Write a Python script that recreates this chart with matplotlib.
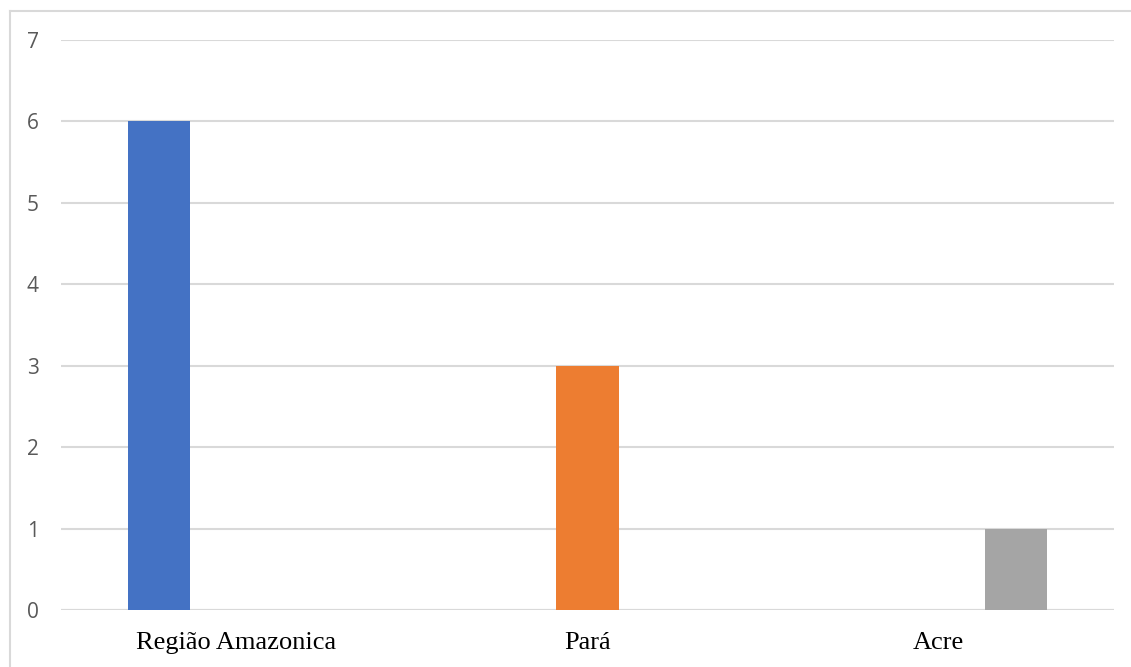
import numpy as np
import matplotlib.pyplot as plt
from matplotlib.lines import Line2D

# categories and one series per category (Excel clustered style)
categories = ["Região Amazonica", "Pará", "Acre"]
series_names = ["Região Amazonica", "Pará", "Acre"]
series_values = [[6, 0, 0], [0, 3, 0], [0, 0, 1]]
colors = ["#4472C4", "#ED7D31", "#A5A5A5"]
yticks = [0, 1, 2, 3, 4, 5, 6, 7]

fig = plt.figure(figsize=(11.31, 6.67), dpi=100)
ax = fig.add_axes([61/1131, 57/667, 1053/1131, 570/667])

x = np.arange(len(categories))
step = 0.222  # spacing between series within a group
width = 0.177
for i, (name, vals) in enumerate(zip(series_names, series_values)):
    offs = (i - 1) * step
    ax.bar(x + offs, vals, width=width, color=colors[i], label=name, zorder=3)

ax.set_xlim(-0.5, 2.5)
ax.set_ylim(0, 7)
ax.set_yticks(yticks)
ax.set_yticklabels([str(t) for t in yticks], fontsize=15, color="#595959",
                   family="Open Sans")
ax.set_xticks(x)
ax.set_xticklabels(categories, fontsize=19, family="Liberation Serif", color="black")
ax.tick_params(axis="y", length=0, pad=16)
ax.tick_params(axis="x", length=0, pad=16)
ax.grid(axis="y", color="#d9d9d9", linewidth=1.5, zorder=0)
for s in ax.spines.values():
    s.set_visible(False)
# bottom axis line in grid colour
ax.axhline(0, color="#d9d9d9", linewidth=1.5, zorder=2)

# outer chart frame (left and top edges visible)
fig.add_artist(Line2D([9.5/1131, 9.5/1131], [0, 1 - 10.5/667], transform=fig.transFigure,
                      color="#d9d9d9", linewidth=1.5))
fig.add_artist(Line2D([9.5/1131, 1], [1 - 10.5/667, 1 - 10.5/667], transform=fig.transFigure,
                      color="#d9d9d9", linewidth=1.5))

fig.savefig("out.png", dpi=100, facecolor="white")
